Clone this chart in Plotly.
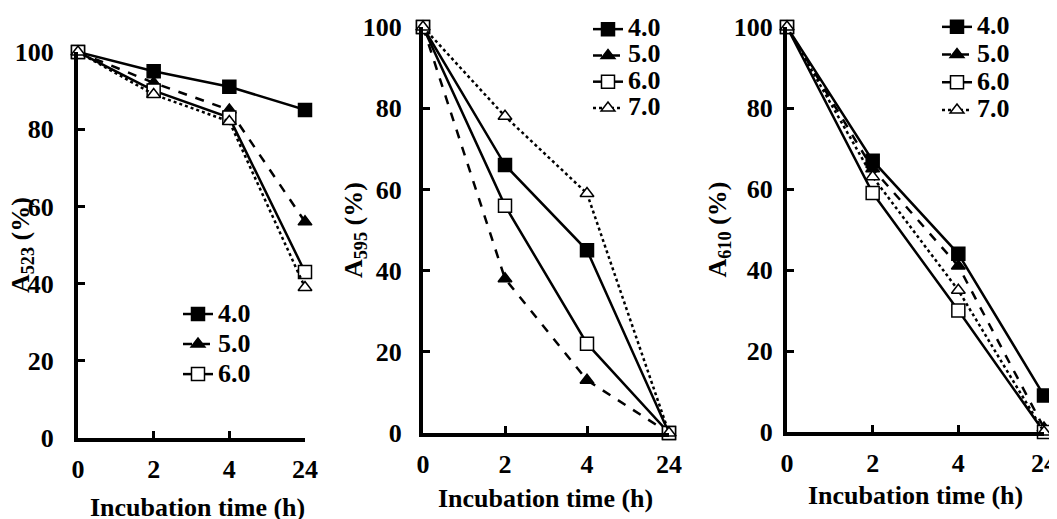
import plotly.graph_objects as go

times = ["0", "2", "4", "24"]
ph_labels = ["4.0", "5.0", "6.0", "7.0"]

a523 = {
    "4.0": [100, 95, 91, 85],
    "5.0": [100, 92, 85, 56],
    "6.0": [100, 90, 83, 43],
    "7.0": [100, 89, 82, 39],
}
a595 = {
    "4.0": [100, 66, 45, 0],
    "5.0": [100, 38, 13, 0],
    "6.0": [100, 56, 22, 0],
    "7.0": [100, 78, 59, 0],
}
a610 = {
    "4.0": [100, 67, 44, 9],
    "5.0": [100, 65, 41, 1],
    "6.0": [100, 59, 30, 0],
    "7.0": [100, 63, 35, 0],
}
y_titles = ["A<sub>523</sub> (%)", "A<sub>595</sub> (%)", "A<sub>610</sub> (%)"]
x_title = "Incubation time (h)"
y_ticks = [0, 20, 40, 60, 80, 100]

styles = {
    "4.0": dict(dash="solid", symbol="square", fill="black"),
    "5.0": dict(dash="dash", symbol="triangle-up", fill="black"),
    "6.0": dict(dash="solid", symbol="square", fill="white"),
    "7.0": dict(dash="dot", symbol="triangle-up", fill="white"),
}

# page has an 8px body margin; figure fills the rest of the window
OFF = 8
W, H = 1057 - OFF, 519 - OFF
FONT = "Liberation Serif, Times New Roman, serif"
FS = 26


def px(x):
    return (x - OFF) / W


def py(y):
    return 1 - (y - OFF) / H


# panel geometry in window pixels: (x_left, x_right, y_top, y_bottom)
panels = [(78, 305, 52, 438), (423, 669, 27, 433), (787, 1044, 27, 432)]
datasets = [a523, a595, a610]
legend_ids = ["legend", "legend2", "legend3"]
legend_pos = [(178, 294), (588, 11), (937, 8)]
legend_fs = [20.8, 17.9, 19]
ylab_standoff = [15, 12, 5]
shown = [["4.0", "5.0", "6.0"], ph_labels, ph_labels]

fig = go.Figure()

for i, (data, (xl, xr, yt, yb)) in enumerate(zip(datasets, panels)):
    n = "" if i == 0 else str(i + 1)
    for ph in ph_labels:
        st = styles[ph]
        fig.add_trace(go.Scatter(
            x=times, y=data[ph],
            name='<span style="font-size:%dpx">%s</span>' % (FS, ph),
            xaxis="x" + n, yaxis="y" + n,
            mode="lines+markers",
            line=dict(color="black", width=2.5, dash=st["dash"]),
            marker=dict(symbol=st["symbol"], size=13 if "square" in st["symbol"] else 12,
                        color=st["fill"], line=dict(color="black", width=1.5)),
            cliponaxis=False,
            legend=legend_ids[i],
            showlegend=ph in shown[i],
        ))
    axfont = dict(family=FONT, size=FS, color="black", weight="bold")
    fig.update_layout(**{
        "xaxis" + n: dict(
            domain=[px(xl), px(xr)], anchor="y" + n, type="category",
            range=[0, 3], showline=True, linewidth=4, linecolor="black",
            ticks="inside", ticklen=7, tickwidth=3, tickcolor="black",
            showgrid=False, zeroline=False, tickfont=axfont,
            ticklabelstandoff=5,
        ),
        "yaxis" + n: dict(
            domain=[py(yb), py(yt)], anchor="x" + n,
            range=[0, 100], tickvals=y_ticks, showline=True, linewidth=4,
            linecolor="black", ticks="inside", ticklen=7, tickwidth=3,
            tickcolor="black", showgrid=False, zeroline=False, tickfont=axfont,
            ticklabelstandoff=ylab_standoff[i],
        ),
    })
    lx, ly = legend_pos[i]
    fig.update_layout(**{legend_ids[i]: dict(
        x=px(lx), y=py(ly), xanchor="left", yanchor="top",
        xref="paper", yref="paper", bgcolor="rgba(0,0,0,0)",
        font=dict(family=FONT, size=legend_fs[i], color="black", weight="bold"),
        itemwidth=30, tracegroupgap=0,
    )})

# axis titles
ytitle_x = [22, 355, 718]
xtitle_pos = [(197, 507), (545, 498), (915, 495)]
for i, (xl, xr, yt, yb) in enumerate(panels):
    fig.add_annotation(
        x=px(ytitle_x[i]), y=py((yt + yb) / 2), xref="paper", yref="paper",
        xanchor="center", yanchor="middle",
        text=y_titles[i], textangle=-90, showarrow=False,
        font=dict(family=FONT, size=FS, color="black", weight="bold"),
    )
    cx, cy = xtitle_pos[i]
    fig.add_annotation(
        x=px(cx), y=py(cy), xref="paper", yref="paper",
        xanchor="center", yanchor="middle",
        text=x_title, showarrow=False,
        font=dict(family=FONT, size=FS, color="black", weight="bold"),
    )

fig.update_layout(
    width=W, height=H,
    margin=dict(l=0, r=0, t=0, b=0, autoexpand=False),
    paper_bgcolor="white", plot_bgcolor="white",
)

fig.write_html("out.html")
